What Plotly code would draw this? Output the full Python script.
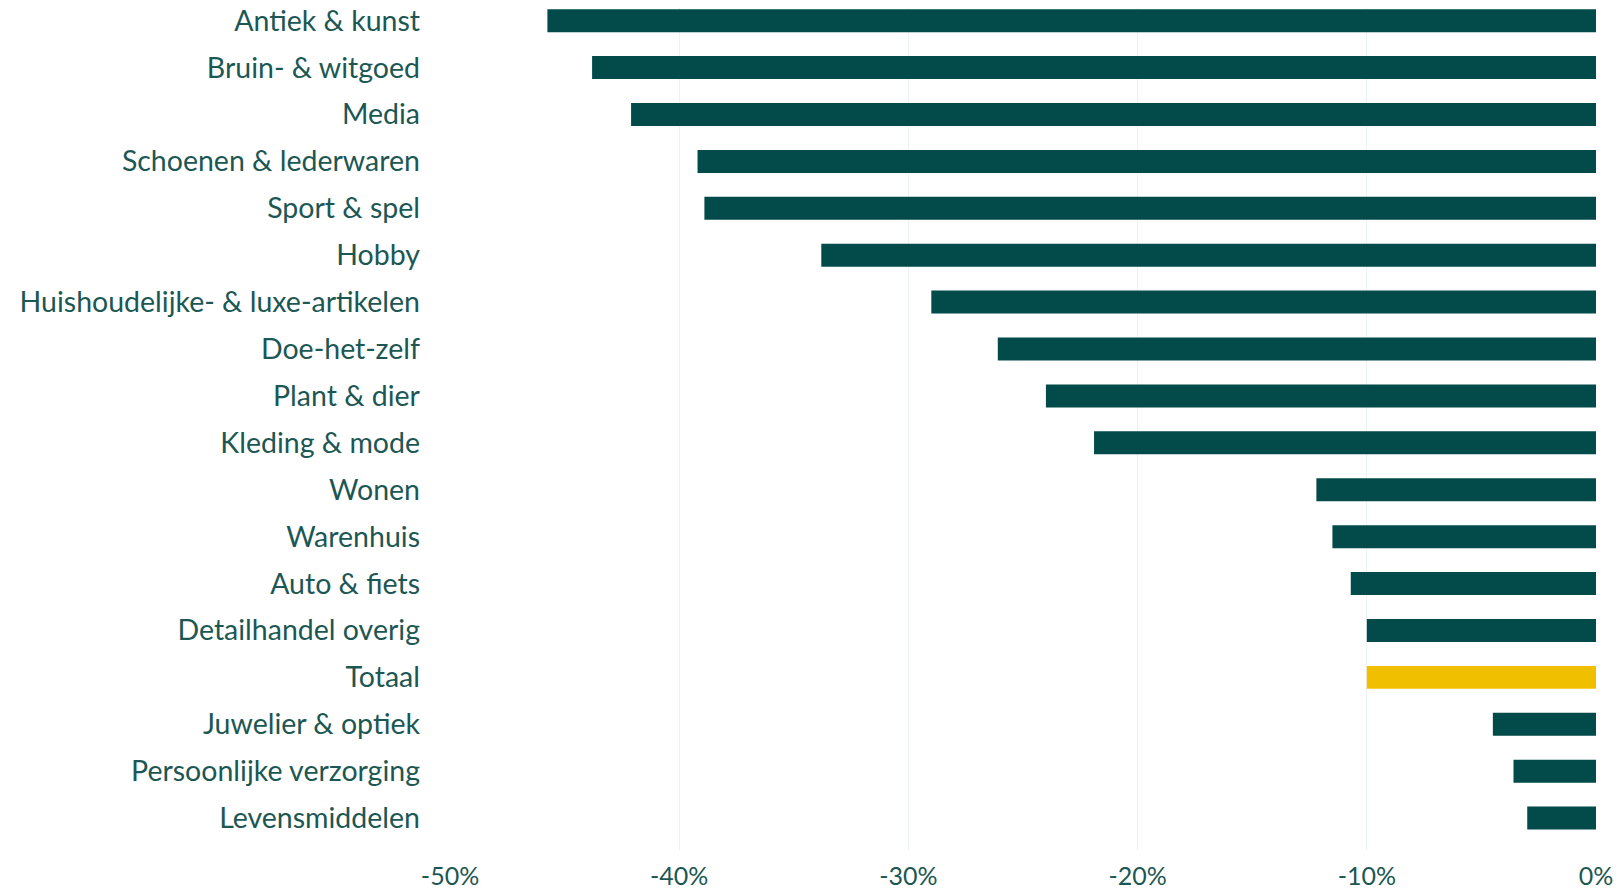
import plotly.graph_objects as go

categories = [
    "Antiek & kunst", "Bruin- & witgoed", "Media", "Schoenen & lederwaren",
    "Sport & spel", "Hobby", "Huishoudelijke- & luxe-artikelen", "Doe-het-zelf",
    "Plant & dier", "Kleding & mode", "Wonen", "Warenhuis", "Auto & fiets",
    "Detailhandel overig", "Totaal", "Juwelier & optiek",
    "Persoonlijke verzorging", "Levensmiddelen",
]
values = [-45.75, -43.8, -42.1, -39.2, -38.9, -33.8, -29.0, -26.1, -24.0, -21.9,
          -12.2, -11.5, -10.7, -10.0, -10.0, -4.5, -3.6, -3.0]
highlight = "Totaal"
tick_vals = [-50, -40, -30, -20, -10, 0]
tick_text = ["-50%", "-40%", "-30%", "-20%", "-10%", "0%"]

DARK = "#034a4a"
YELLOW = "#f0bf00"
TEXT = "#1c5753"
colors = [YELLOW if c == highlight else DARK for c in categories]

fig = go.Figure(go.Bar(
    y=categories, x=values, orientation="h",
    marker=dict(color=colors, line=dict(width=0)),
    width=0.49,
    hoverinfo="skip",
))

fig.update_layout(
    width=1624, height=892,
    margin=dict(l=450, r=28, t=8, b=42),
    paper_bgcolor="white", plot_bgcolor="white",
    font=dict(family="Lato, sans-serif", size=28, color=TEXT),
    showlegend=False,
)
fig.update_xaxes(
    range=[-50, 0], tickvals=tick_vals, ticktext=tick_text,
    showgrid=True, gridcolor="#edf3f2", gridwidth=1,
    zeroline=False, showline=False, ticks="",
    ticklabelstandoff=9, automargin=False,
    tickfont=dict(size=25, color=TEXT),
)
fig.update_yaxes(
    categoryorder="array", categoryarray=categories,
    range=[17.68, -0.27],
    showgrid=False, zeroline=False, showline=False, ticks="",
    ticklabelstandoff=29, automargin=False,
    tickfont=dict(size=28.5, color=TEXT),
)

fig.write_html(
    "out.html",
    config={"displayModeBar": False},
    post_script="document.body.style.margin='0';document.body.style.overflow='hidden';",
)
